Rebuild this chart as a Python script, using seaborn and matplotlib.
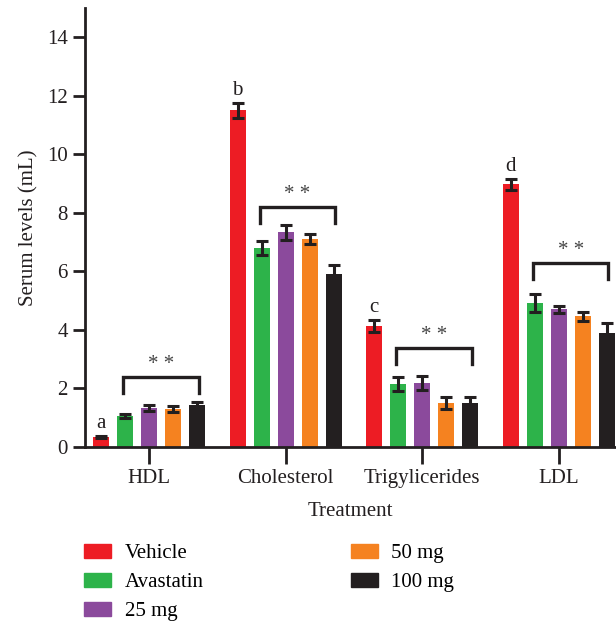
import pandas as pd
import matplotlib.pyplot as plt
import seaborn as sb
import numpy as np

# data
lipids = ['HDL', 'Cholesterol', 'Trigylicerides', 'LDL']
groups = ['Vehicle', 'Avastatin', '25 mg', '50 mg', '100 mg']
colors = ['#ED1C24', '#2DB34A', '#8B4A9C', '#F58220', '#231F20']

vehicle = [0.34, 11.5, 4.13, 8.97]
avastatin = [1.06, 6.79, 2.14, 4.92]
mg25 = [1.32, 7.33, 2.18, 4.70]
mg50 = [1.29, 7.10, 1.50, 4.47]
mg100 = [1.43, 5.90, 1.50, 3.88]

err_vehicle = [0.05, 0.25, 0.20, 0.20]
err_avastatin = [0.06, 0.24, 0.24, 0.30]
err_25 = [0.10, 0.25, 0.24, 0.12]
err_50 = [0.10, 0.18, 0.20, 0.15]
err_100 = [0.12, 0.33, 0.20, 0.37]

letters = ['a', 'b', 'c', 'd']
bracket_y = [2.39, 8.19, 3.37, 6.30]

vals = [vehicle, avastatin, mg25, mg50, mg100]
errs = [err_vehicle, err_avastatin, err_25, err_50, err_100]

rows = []
for g, v in zip(groups, vals):
    for lip, x in zip(lipids, v):
        rows.append({'Treatment': lip, 'group': g, 'value': x})
df = pd.DataFrame(rows)

plt.rcParams['font.family'] = ['Liberation Serif', 'DejaVu Serif']
ink = '#231F20'
fs = 15

fig = plt.figure(figsize=(6.16, 6.24), dpi=100)
ax = fig.add_axes([0.138, 0.2837, 0.862, 0.7035])

sb.barplot(data=df, x='Treatment', y='value', hue='group', hue_order=groups,
           palette=colors, width=0.88, gap=0.335, errorbar=None, saturation=1,
           ax=ax, legend=False)

# error bars
for cont, e in zip(ax.containers, errs):
    for bar, ee in zip(cont, e):
        xc = bar.get_x() + bar.get_width() / 2
        ax.errorbar(xc, bar.get_height(), yerr=ee, color=ink, lw=2.2,
                    capsize=4, capthick=2.2, zorder=5)

# letters above vehicle bars and brackets over treated groups
red = ax.containers[0]
grn = ax.containers[1]
blk = ax.containers[4]
for i in range(4):
    rb = red[i]
    xc = rb.get_x() + rb.get_width() / 2
    ax.text(xc, vehicle[i] + err_vehicle[i] + 0.1, letters[i], ha='center',
            va='bottom', fontsize=fs, color=ink)
    x0 = grn[i].get_x() + grn[i].get_width() * 0.4
    x1 = blk[i].get_x() + blk[i].get_width() * 0.6
    y = bracket_y[i]
    ax.plot([x0, x0, x1, x1], [y - 0.55, y, y, y - 0.55], color=ink, lw=2.4,
            solid_joinstyle='miter', clip_on=False)
    ax.text((x0 + x1) / 2, y + 0.1, '* *', ha='center', va='bottom',
            fontsize=fs, color='#444444')

ax.set_xlim(-0.469, 3.42)
ax.set_ylim(0, 15)
ax.set_yticks(np.arange(0, 15, 2))
ax.set_ylabel('Serum levels (mL)', fontsize=fs, color=ink, labelpad=6)
ax.set_xlabel('Treatment', fontsize=fs, color=ink, labelpad=10)
ax.tick_params(axis='both', labelsize=fs, colors=ink, width=2, length=9)
ax.tick_params(axis='x', length=12, pad=4)
for s in ['top', 'right']:
    ax.spines[s].set_visible(False)
for s in ['left', 'bottom']:
    ax.spines[s].set_linewidth(2)
    ax.spines[s].set_color(ink)

handles = [plt.Rectangle((0, 0), 1, 1, color=c) for c in colors]
fig.legend(handles, groups, loc='upper left', bbox_to_anchor=(0.113, 0.152),
           ncol=2, frameon=False, fontsize=fs, handlelength=1.3,
           handleheight=0.7, handletextpad=0.65, labelspacing=0.45,
           columnspacing=7.05, borderpad=0.2)

fig.savefig('out.png', dpi=100)
